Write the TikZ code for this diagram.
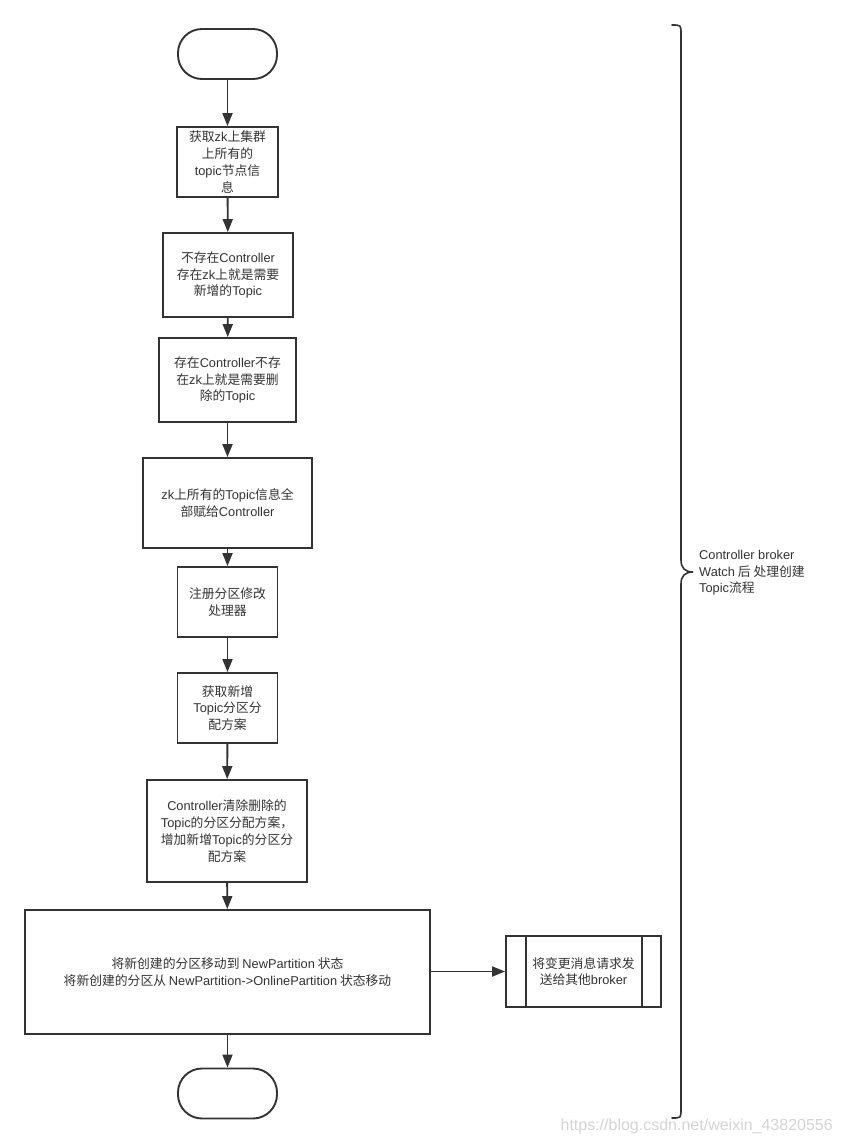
\documentclass[tikz,border=0pt]{standalone}
\usepackage{fontspec}
\setmainfont{Noto Sans CJK SC}
\newfontfamily\latf{Liberation Sans}
\newcommand{\Lw}[1]{{\latf #1}}
\usetikzlibrary{arrows.meta}
\definecolor{lc}{HTML}{333333}
\definecolor{tc}{HTML}{333333}
\definecolor{wm}{HTML}{D4D4D4}
\begin{document}
\begin{tikzpicture}[x=1pt,y=-1pt,
  proc/.style={draw=lc, line width=1.9pt, fill=white, align=center, inner sep=0pt,
    font=\fontsize{12.8}{16.8}\selectfont, text=tc},
  term/.style={draw=lc, line width=1.9pt, fill=white, rounded corners=24pt, inner sep=0pt,
    minimum width=99pt, minimum height=50pt},
  conn/.style={draw=lc, line width=1.9pt, -{Triangle[length=13pt,width=10pt]}},
  bracestyle/.style={draw=lc, line width=1.6pt, line cap=round}]
\useasboundingbox (0,0) rectangle (841,1144);
\fill[white] (0,0) rectangle (841,1144);

\node[term] (start) at (227.5,54) {};
\node[proc, minimum width=101pt, minimum height=70pt] (b1) at (227.5,162) {获取\Lw{zk}上集群\\上所有的\\\Lw{topic}节点信\\息};
\node[proc, minimum width=130pt, minimum height=84pt] (b2) at (228,275) {不存在\Lw{Controller}\\存在\Lw{zk}上就是需要\\新增的\Lw{Topic}};
\node[proc, minimum width=137pt, minimum height=84pt] (b3) at (227.5,380) {存在\Lw{Controller}不存\\在\Lw{zk}上就是需要删\\除的\Lw{Topic}};
\node[proc, minimum width=169pt, minimum height=90pt] (b4) at (227.5,503) {\Lw{zk}上所有的\Lw{Topic}信息全\\部赋给\Lw{Controller}};
\node[proc, minimum width=100pt, minimum height=70pt] (b5) at (227.5,602) {注册分区修改\\处理器};
\node[proc, minimum width=100pt, minimum height=70pt] (b6) at (227.5,708) {获取新增\\\Lw{Topic}分区分\\配方案};
\node[proc, minimum width=160pt, minimum height=102pt] (b7) at (227,831) {\Lw{Controller}清除删除的\\\Lw{Topic}的分区分配方案，\\增加新增\Lw{Topic}的分区分\\配方案};
\node[proc, minimum width=405pt, minimum height=124pt] (b8) at (227.5,972) {将新创建的分区移动到 \Lw{NewPartition} 状态\\将新创建的分区从 \Lw{NewPartition->OnlinePartition} 状态移动};
\node[proc, minimum width=155pt, minimum height=71pt] (b9) at (583.5,971.5) {将变更消息请求发\\送给其他\Lw{broker}};
\draw[lc, line width=1.6pt] ([xshift=21pt]b9.north west) -- ([xshift=21pt]b9.south west);
\draw[lc, line width=1.6pt] ([xshift=-20pt]b9.north east) -- ([xshift=-20pt]b9.south east);
\node[term] (end) at (227.5,1093.5) {};

\draw[conn] (start) -- (b1);
\draw[conn] (b1) -- (b2);
\draw[conn] (b2) -- (b3);
\draw[conn] (b3) -- (b4);
\draw[conn] (b4) -- (b5);
\draw[conn] (b5) -- (b6);
\draw[conn] (b6) -- (b7);
\draw[conn] (b7) -- (b8);
\draw[conn] (b8) -- (end);
\draw[conn] (b8.east |- b9.west) -- (b9.west);

\coordinate (brtop) at (672,25);
\coordinate (brtip) at (693,572);
\coordinate (brbot) at (672,1118);
\draw[bracestyle] (brtop) .. controls (681,25) .. (681,34) -- (681,560)
  .. controls (681,568) and (685,572) .. (brtip)
  .. controls (685,572) and (681,576) .. (681,584) -- (681,1109)
  .. controls (681,1118) .. (brbot);
\node[anchor=west, align=left, text=tc, inner sep=0pt, font=\fontsize{12.8}{16.5}\selectfont] (lbl) at (699,573) {\Lw{Controller broker}\\\Lw{Watch} 后 处理创建\\\Lw{Topic}流程};

\node[anchor=east, text=wm, inner sep=0pt, font=\latf\fontsize{16}{17}\selectfont] (wmk) at (833,1126) {https://blog.csdn.net/weixin\_43820556};
\end{tikzpicture}
\end{document}
